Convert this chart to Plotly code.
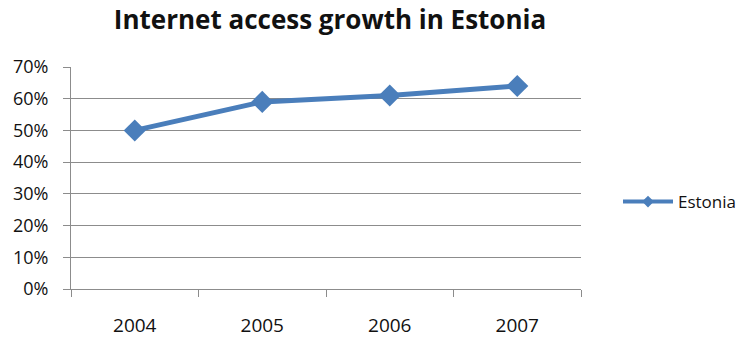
import plotly.graph_objects as go

years = ["2004", "2005", "2006", "2007"]
estonia = [0.50, 0.59, 0.61, 0.64]
y_ticks = [0, 0.1, 0.2, 0.3, 0.4, 0.5, 0.6, 0.7]
y_labels = ["0%", "10%", "20%", "30%", "40%", "50%", "60%", "70%"]

blue = "#4A7EBB"
grid = "#8C8C8C"
font = "Open Sans"

W, H = 745, 338
ML, MR, MT, MB = 71, 0, 67, 49
plot_w = W - ML - MR
plot_h = H - MT - MB
x_end = (581 - ML) / plot_w  # right edge of the line chart area

fig = go.Figure()
fig.add_trace(go.Scatter(
    x=years, y=estonia, mode="lines+markers", name="Estonia",
    line=dict(color=blue, width=5),
    marker=dict(symbol="diamond", size=17, color=blue),
    showlegend=False,
))
# legend entry with a smaller marker
fig.add_trace(go.Scatter(
    x=[None], y=[None], mode="lines+markers", name="Estonia",
    line=dict(color=blue, width=4),
    marker=dict(symbol="diamond", size=9, color=blue),
))

fig.update_layout(
    template="none",
    width=W, height=H,
    margin=dict(l=ML, r=MR, t=MT, b=MB),
    paper_bgcolor="white", plot_bgcolor="white",
    title=dict(text="<b>Internet access growth in Estonia</b>",
               x=(330 - ML) / plot_w, xref="paper", xanchor="center",
               y=0.94, yanchor="middle",
               font=dict(family=font, size=26, color="#111")),
    font=dict(family=font, size=16, color="#111"),
    legend=dict(x=(618 - ML) / plot_w, xanchor="left",
                y=(H - MB - 202) / plot_h, yanchor="middle",
                itemwidth=50, font=dict(family=font, size=17, color="#111"),
                bgcolor="rgba(0,0,0,0)"),
    xaxis=dict(type="category", range=[-0.5, 3.5], tickson="boundaries",
               domain=[0, x_end],
               ticks="outside", ticklen=7, tickcolor=grid,
               showline=True, linecolor=grid, linewidth=1,
               showgrid=False, ticklabelstandoff=19, automargin=False,
               tickfont=dict(family=font, size=19, color="#111")),
    yaxis=dict(range=[0, 0.7], tickvals=y_ticks, ticktext=y_labels,
               ticks="outside", ticklen=7, tickcolor=grid,
               showline=True, linecolor=grid, linewidth=1,
               showgrid=True, gridcolor=grid, gridwidth=1,
               zeroline=False, ticklabelstandoff=11, automargin=False,
               tickfont=dict(family=font, size=18, color="#111")),
)

fig.write_html("out.html")
